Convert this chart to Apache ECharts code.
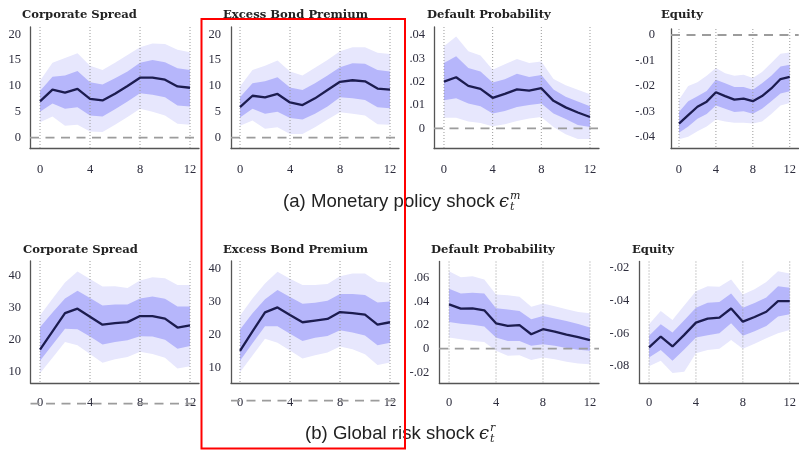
<!DOCTYPE html>
<html><head><meta charset="utf-8">
<script src="https://cdn.jsdelivr.net/npm/echarts@6/dist/echarts.min.js"></script>
<style>html,body{margin:0;padding:0;background:#fff}#c{width:799px;height:450px}</style>
</head><body><div id="c"></div>
<script>
// ---- horizon (quarters) and tick labels ----
const steps = [0,1,2,3,4,5,6,7,8,9,10,11,12];
const xTickVals = [0,4,8,12];
const titles = ['Corporate Spread','Excess Bond Premium','Default Probability','Equity',
                'Corporate Spread','Excess Bond Premium','Default Probability','Equity'];
const yTicksSpreadM = [0,5,10,15,20];
const yTicksDefM = [0,0.01,0.02,0.03,0.04];
const yTicksEqM = [-0.04,-0.03,-0.02,-0.01,0];
const yTicksSpreadR = [10,20,30,40];
const yTicksDefR = [-0.02,0,0.02,0.04,0.06];
const yTicksEqR = [-0.08,-0.06,-0.04,-0.02];
const zeroLevel = 0;

// ---- (a) Monetary policy shock ----
const csM_med  = [7.0,9.3,8.7,9.45,7.5,7.2,8.5,10.0,11.6,11.6,11.2,9.9,9.65];
const csM_inHi = [9.0,11.8,12.0,12.9,10.7,10.3,11.5,12.8,14.5,15.0,14.6,13.4,13.1];
const csM_inLo = [5.0,6.6,5.6,5.9,4.3,4.1,5.5,7.0,8.6,8.3,7.8,6.2,6.0];
const csM_outHi= [11.0,14.5,15.4,16.3,13.9,13.1,14.5,16.0,17.5,18.2,18.1,17.0,16.5];
const csM_outLo= [3.0,4.1,2.3,2.5,1.2,1.1,2.5,4.0,5.6,5.0,4.3,2.7,2.5];

const ebpM_med  = [5.9,8.1,7.8,8.45,6.8,6.3,7.6,9.2,10.8,11.1,10.9,9.5,9.3];
const ebpM_inHi = [7.8,10.5,10.9,11.7,9.7,9.2,10.5,12.0,13.6,14.4,14.3,13.1,12.8];
const ebpM_inLo = [3.9,5.6,4.6,5.0,3.8,3.5,4.6,6.0,7.8,7.6,7.3,5.9,5.7];
const ebpM_outHi= [9.9,13.1,13.9,14.9,12.8,12.0,13.5,15.0,16.7,17.5,17.5,16.4,16.2];
const ebpM_outLo= [2.3,3.3,1.7,2.0,0.7,0.7,2.0,3.5,4.9,4.6,4.3,2.6,2.5];

const dpM_med  = [0.0200,0.0219,0.0182,0.0169,0.0131,0.0148,0.0167,0.0162,0.0172,0.0118,0.0090,0.0068,0.0049];
const dpM_inHi = [0.0280,0.0309,0.0258,0.0244,0.0196,0.0210,0.0234,0.0220,0.0229,0.0167,0.0135,0.0115,0.0095];
const dpM_inLo = [0.0121,0.0129,0.0107,0.0095,0.0064,0.0075,0.0092,0.0100,0.0107,0.0064,0.0040,0.0015,0.0006];
const dpM_outHi= [0.0352,0.0393,0.0330,0.0312,0.0251,0.0275,0.0297,0.0280,0.0286,0.0211,0.0185,0.0165,0.0146];
const dpM_outLo= [0.0046,0.0046,0.0030,0.0023,0.0009,0.0018,0.0032,0.0042,0.0049,0.0006,-0.0025,-0.0045,-0.0045];

const eqM_med  = [-0.0348,-0.0315,-0.0282,-0.0262,-0.0225,-0.0240,-0.0254,-0.0250,-0.0260,-0.0240,-0.0210,-0.0173,-0.0165];
const eqM_inHi = [-0.0303,-0.0260,-0.0241,-0.0220,-0.0176,-0.0190,-0.0204,-0.0204,-0.0215,-0.0190,-0.0160,-0.0124,-0.0117];
const eqM_inLo = [-0.0384,-0.0360,-0.0329,-0.0310,-0.0277,-0.0290,-0.0303,-0.0300,-0.0309,-0.0290,-0.0260,-0.0230,-0.0221];
const eqM_outHi= [-0.0254,-0.0200,-0.0186,-0.0160,-0.0130,-0.0150,-0.0160,-0.0156,-0.0169,-0.0145,-0.0110,-0.0074,-0.0069];
const eqM_outLo= [-0.0410,-0.0400,-0.0378,-0.0360,-0.0332,-0.0340,-0.0345,-0.0345,-0.0348,-0.0340,-0.0310,-0.0277,-0.0267];

// ---- (b) Global risk shock ----
const csR_med  = [16.9,22.6,28.3,29.7,27.2,24.7,25.2,25.5,27.4,27.4,26.6,23.8,24.5];
const csR_inHi = [23.9,28.5,32.9,35.3,33.0,30.7,31.0,31.0,32.9,33.5,32.8,30.4,30.4];
const csR_inLo = [13.4,18.4,23.4,23.3,21.0,18.5,19.3,19.8,21.1,21.0,20.0,17.2,18.0];
const csR_outHi= [27.6,32.8,37.9,41.3,39.0,36.6,36.7,36.2,38.5,39.5,39.2,37.1,37.1];
const csR_outLo= [9.5,14.4,19.3,18.3,15.5,12.8,13.9,14.6,16.2,15.5,14.4,11.0,11.7];

const ebpR_med  = [15.1,21.0,26.8,28.3,26.0,23.8,24.3,24.8,26.9,26.6,26.1,23.1,23.8];
const ebpR_inHi = [21.6,26.5,30.8,33.6,31.5,29.4,29.7,30.3,32.4,32.4,32.1,29.8,30.1];
const ebpR_inLo = [12.1,17.4,22.6,22.6,20.3,18.1,19.1,19.6,21.4,20.7,19.8,16.8,17.6];
const ebpR_outHi= [25.8,31.0,35.6,39.1,37.0,35.1,35.1,35.4,37.8,38.6,38.6,36.1,35.8];
const ebpR_outLo= [8.6,13.7,18.8,17.6,15.2,12.8,13.8,14.6,16.4,15.6,14.1,10.8,11.6];

const dpR_med  = [0.0376,0.0339,0.0342,0.0325,0.0215,0.0193,0.0199,0.0122,0.0165,0.0145,0.0120,0.0098,0.0072];
const dpR_inHi = [0.0508,0.0468,0.0474,0.0468,0.0342,0.0333,0.0319,0.0249,0.0277,0.0255,0.0235,0.0210,0.0179];
const dpR_inLo = [0.0226,0.0212,0.0203,0.0187,0.0094,0.0066,0.0066,0.0024,0.0038,0.0025,0.0005,-0.0010,-0.0018];
const dpR_outHi= [0.0657,0.0606,0.0614,0.0587,0.0460,0.0452,0.0441,0.0356,0.0384,0.0360,0.0335,0.0310,0.0300];
const dpR_outLo= [0.0094,0.0080,0.0066,0.0057,-0.0018,-0.0061,-0.0055,-0.0097,-0.0075,-0.0090,-0.0110,-0.0125,-0.0131];

const eqR_med  = [-0.0687,-0.0620,-0.0681,-0.0610,-0.0535,-0.0510,-0.0504,-0.0448,-0.0529,-0.0500,-0.0468,-0.0403,-0.0403];
const eqR_inHi = [-0.0616,-0.0545,-0.0596,-0.0520,-0.0443,-0.0413,-0.0409,-0.0356,-0.0443,-0.0415,-0.0380,-0.0311,-0.0321];
const eqR_inLo = [-0.0748,-0.0702,-0.0769,-0.0700,-0.0626,-0.0612,-0.0600,-0.0539,-0.0616,-0.0588,-0.0555,-0.0498,-0.0484];
const eqR_outHi= [-0.0545,-0.0464,-0.0519,-0.0430,-0.0342,-0.0311,-0.0315,-0.0271,-0.0362,-0.0330,-0.0285,-0.0220,-0.0234];
const eqR_outLo= [-0.0803,-0.0769,-0.0844,-0.0836,-0.0722,-0.0702,-0.0695,-0.0641,-0.0695,-0.0665,-0.0630,-0.0600,-0.0580];

// ---- layout (positions / ranges only) ----
const boxes = [[30,27,169,121.5],[231,27,168,121.5],[434,27,165,121.5],[671,29,128,119.5],
               [30.5,261,168.5,122],[231,261,168,122],[439.3,261.5,159.7,121.5],[639.3,261.5,159.7,121.5]];
const xRanges = [[-0.8,12.72],[-0.72,12.72],[-0.82,12.74],[-0.865,12.97],[-0.76,12.72],[-0.72,12.72],[-0.83,12.77],[-0.83,12.77]];
const yRanges = [[-2.1,21.4],[-2.1,21.4],[-0.0086,0.0434],[-0.0446,0.00236],[6.47,44.6],[5.35,42.4],[-0.0291,0.0739],[-0.0905,-0.016]];
const yLabelMargins = [9,10,9,16,9.5,10,10,10];
const showZeroLine = [true,true,true,true,true,true,true,false];
const titlePos = [[22,9],[223,9],[427,9],[661,9],[23,243.5],[223,243.5],[431,243.5],[632,243.5]];

const panels = [
  {med:csM_med,inHi:csM_inHi,inLo:csM_inLo,outHi:csM_outHi,outLo:csM_outLo,yt:yTicksSpreadM},
  {med:ebpM_med,inHi:ebpM_inHi,inLo:ebpM_inLo,outHi:ebpM_outHi,outLo:ebpM_outLo,yt:yTicksSpreadM},
  {med:dpM_med,inHi:dpM_inHi,inLo:dpM_inLo,outHi:dpM_outHi,outLo:dpM_outLo,yt:yTicksDefM},
  {med:eqM_med,inHi:eqM_inHi,inLo:eqM_inLo,outHi:eqM_outHi,outLo:eqM_outLo,yt:yTicksEqM},
  {med:csR_med,inHi:csR_inHi,inLo:csR_inLo,outHi:csR_outHi,outLo:csR_outLo,yt:yTicksSpreadR},
  {med:ebpR_med,inHi:ebpR_inHi,inLo:ebpR_inLo,outHi:ebpR_outHi,outLo:ebpR_outLo,yt:yTicksSpreadR},
  {med:dpR_med,inHi:dpR_inHi,inLo:dpR_inLo,outHi:dpR_outHi,outLo:dpR_outLo,yt:yTicksDefR},
  {med:eqR_med,inHi:eqR_inHi,inLo:eqR_inLo,outHi:eqR_outHi,outLo:eqR_outLo,yt:yTicksEqR}
];

const OUTER = '#e7e7fd', INNER = '#b6b6fb', MED = '#1c1c4f';
const serif = "'Liberation Serif', 'DejaVu Serif', serif";
const titleSerif = "'DejaVu Serif', serif";
const fmtY = v => v === 0 ? '0' : String(v).replace('0.', '.');

function bandSeries(i, hi, lo, color, z) {
  return {
    type: 'custom', xAxisIndex: i, yAxisIndex: i, z: z, silent: true,
    data: [[steps[0], lo[0]]],
    renderItem: function (params, api) {
      const pts = [];
      for (let k = 0; k < steps.length; k++) pts.push(api.coord([steps[k], hi[k]]));
      for (let k = steps.length - 1; k >= 0; k--) pts.push(api.coord([steps[k], lo[k]]));
      return { type: 'polygon', shape: { points: pts }, style: { fill: color } };
    }
  };
}

const grid = [], xAxis = [], yAxis = [], series = [], title = [];
panels.forEach((p, i) => {
  const b = boxes[i];
  grid.push({ left: b[0], top: b[1], width: b[2], height: b[3], containLabel: false });
  xAxis.push({
    type: 'value', gridIndex: i, min: xRanges[i][0], max: xRanges[i][1],
    axisLine: { show: true, onZero: false, lineStyle: { color: '#555', width: 1.3 } },
    axisTick: { show: false },
    splitLine: { show: false },
    axisLabel: { customValues: xTickVals, margin: i < 4 ? 15 : 13, fontFamily: serif, fontSize: 12.5, color: '#2d2d3d' }
  });
  yAxis.push({
    type: 'value', gridIndex: i, min: yRanges[i][0], max: yRanges[i][1],
    axisLine: { show: true, onZero: false, lineStyle: { color: '#555', width: 1.3 } },
    axisTick: { show: false },
    splitLine: { show: false },
    axisLabel: { customValues: p.yt, formatter: fmtY, margin: yLabelMargins[i], fontFamily: serif, fontSize: 12.5, color: '#2d2d3d' }
  });
  title.push({ text: titles[i], left: titlePos[i][0], top: titlePos[i][1], padding: 0,
    textStyle: { fontFamily: titleSerif, fontWeight: 'bold', fontSize: 11.6, color: '#222' } });
  series.push(bandSeries(i, p.outHi, p.outLo, OUTER, 1));
  series.push(bandSeries(i, p.inHi, p.inLo, INNER, 2));
  // vertical dotted guides at tick positions
  series.push({
    type: 'custom', xAxisIndex: i, yAxisIndex: i, z: 3, silent: true,
    data: xTickVals.map(v => [v, zeroLevel]),
    renderItem: function (params, api) {
      const cs = params.coordSys;
      const x = api.coord([api.value(0), api.value(1)])[0];
      return { type: 'line', shape: { x1: x, y1: cs.y, x2: x, y2: cs.y + cs.height },
        style: { stroke: '#9a9a9a', lineWidth: 1, lineDash: [1, 2] } };
    }
  });
  // dashed zero line
  if (showZeroLine[i]) series.push({
    type: 'custom', xAxisIndex: i, yAxisIndex: i, z: 4, silent: true, clip: false,
    data: [[steps[0], zeroLevel]],
    renderItem: function (params, api) {
      const cs = params.coordSys;
      const y = api.coord([api.value(0), api.value(1)])[1];
      return { type: 'line', shape: { x1: cs.x, y1: y, x2: cs.x + cs.width, y2: y },
        style: { stroke: '#9c9c9c', lineWidth: 1.8, lineDash: [9, 6.5] } };
    }
  });
  series.push({
    type: 'line', xAxisIndex: i, yAxisIndex: i, z: 5, silent: true,
    data: steps.map((s, k) => [s, p.med[k]]),
    showSymbol: false, symbol: 'none',
    lineStyle: { color: MED, width: 2.3 }
  });
});

const sansCap = "'Liberation Sans', 'DejaVu Sans', sans-serif";
const capFont = "18.6px " + sansCap;
const graphic = [
  { type: 'text', left: 283, top: 192, style: { text: '(a) Monetary policy shock', font: capFont, fill: '#222' } },
  { type: 'text', left: 499, top: 193, style: { text: 'ϵ', font: "italic 18px 'DejaVu Serif', serif", fill: '#222' } },
  { type: 'text', left: 510, top: 191, style: { text: 'm', font: "italic 11px 'DejaVu Serif', serif", fill: '#222' } },
  { type: 'text', left: 510, top: 202, style: { text: 't', font: "italic 11px 'DejaVu Serif', serif", fill: '#222' } },
  { type: 'text', left: 305, top: 424, style: { text: '(b) Global risk shock', font: capFont, fill: '#222' } },
  { type: 'text', left: 479, top: 425, style: { text: 'ϵ', font: "italic 18px 'DejaVu Serif', serif", fill: '#222' } },
  { type: 'text', left: 490, top: 423, style: { text: 'r', font: "italic 11px 'DejaVu Serif', serif", fill: '#222' } },
  { type: 'text', left: 490, top: 434, style: { text: 't', font: "italic 11px 'DejaVu Serif', serif", fill: '#222' } },
  { type: 'rect', z: 100, shape: { x: 201.5, y: 19, width: 203.5, height: 429.5 },
    style: { fill: 'none', stroke: '#ff0000', lineWidth: 2 } }
];

const chart = echarts.init(document.getElementById('c'), null, { renderer: 'canvas' });
chart.setOption({ animation: false, backgroundColor: '#fff', title, grid, xAxis, yAxis, series, graphic });
</script></body></html>
